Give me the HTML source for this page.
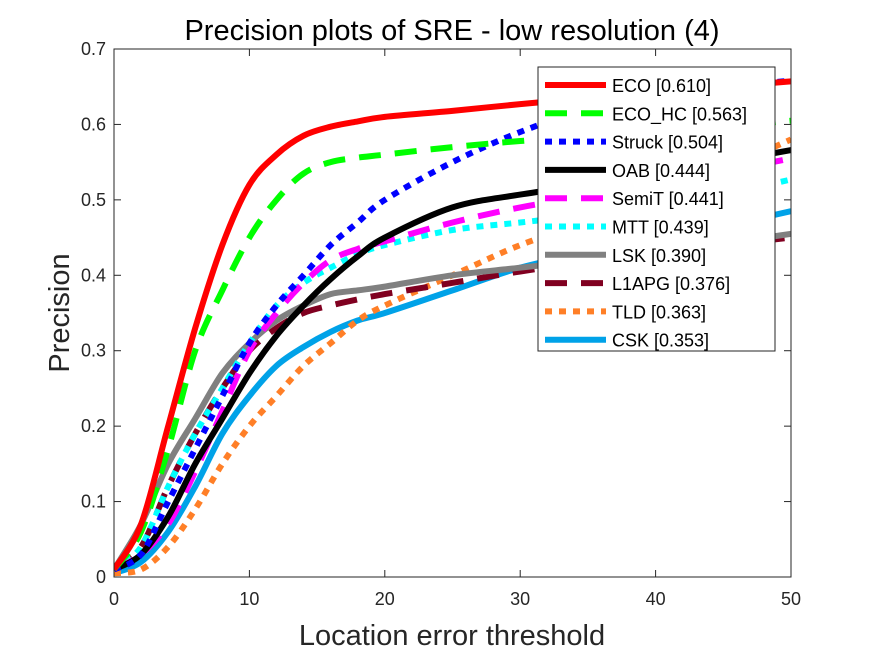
<!DOCTYPE html>
<html><head><meta charset="utf-8"><style>
body{margin:0;background:#fff;width:875px;height:656px;overflow:hidden}
text{font-family:"Liberation Sans",Arial,sans-serif}
</style></head><body>
<svg id="chart" width="875" height="656" xmlns="http://www.w3.org/2000/svg">
<rect width="875" height="656" fill="#fff"/>
<text x="452" y="40" font-size="29" text-anchor="middle">Precision plots of SRE - low resolution (4)</text>
<g id="plot"></g>
<text x="452" y="645" font-size="29" text-anchor="middle" fill="#262626">Location error threshold</text>
<text transform="translate(69,313) rotate(-90)" font-size="29" text-anchor="middle" fill="#262626">Precision</text>
</svg>
<script>
const xs=[0,2,4,6,8,10,12,14,16,18,20,25,30,35,40,45,50];
const names=["ECO [0.610]","ECO_HC [0.563]","Struck [0.504]","OAB [0.444]","SemiT [0.441]","MTT [0.439]","LSK [0.390]","L1APG [0.376]","TLD [0.363]","CSK [0.353]"];
const eco=[0.01,0.07,0.2,0.33,0.44,0.52,0.56,0.585,0.597,0.604,0.61,0.618,0.627,0.635,0.643,0.65,0.657];
const ecohc=[0.01,0.06,0.17,0.3,0.38,0.45,0.5,0.535,0.55,0.556,0.56,0.57,0.578,0.584,0.59,0.597,0.605];
const struck=[0.01,0.03,0.1,0.17,0.24,0.31,0.36,0.4,0.44,0.47,0.5,0.55,0.59,0.62,0.638,0.65,0.658];
const oab=[0.01,0.03,0.08,0.15,0.21,0.27,0.32,0.36,0.395,0.425,0.45,0.49,0.507,0.52,0.535,0.55,0.566];
const semit=[0.01,0.03,0.07,0.14,0.22,0.3,0.35,0.39,0.42,0.435,0.445,0.47,0.49,0.505,0.52,0.537,0.555];
const mtt=[0.01,0.04,0.12,0.19,0.25,0.31,0.36,0.39,0.41,0.428,0.44,0.46,0.47,0.48,0.49,0.507,0.527];
const lsk=[0.01,0.07,0.15,0.21,0.27,0.31,0.34,0.36,0.375,0.38,0.385,0.4,0.41,0.42,0.43,0.442,0.455];
const l1apg=[0.01,0.04,0.12,0.19,0.25,0.3,0.33,0.35,0.36,0.368,0.375,0.39,0.405,0.418,0.43,0.44,0.45];
const tld=[0.005,0.01,0.04,0.09,0.15,0.2,0.24,0.28,0.31,0.34,0.36,0.4,0.44,0.47,0.5,0.54,0.58];
const csk=[0.005,0.02,0.06,0.12,0.19,0.24,0.28,0.305,0.325,0.34,0.35,0.38,0.41,0.43,0.445,0.465,0.485];
const series=[eco,ecohc,struck,oab,semit,mtt,lsk,l1apg,tld,csk];
const xTicks=[0,10,20,30,40,50];
const yTicks=[0,0.1,0.2,0.3,0.4,0.5,0.6,0.7];
const styles=[
 ["#ff0000",""],["#00ff00","22 14"],["#0000ff","7 7"],["#000000",""],["#ff00ff","22 14"],
 ["#00ffff","7 7"],["#808080",""],["#800020","22 14"],["#ff7f27","7 7"],["#00a2e8",""]];
const L=114,R=791,T=49,B=577;
const X=v=>L+(R-L)*v/50, Y=v=>B-(B-T)*v/0.7;
const NS="http://www.w3.org/2000/svg";
const g=document.getElementById('plot');
function mk(t,a,p){const e=document.createElementNS(NS,t);for(const k in a)e.setAttribute(k,a[k]);(p||g).appendChild(e);return e;}
function smooth(P){
 let d='M'+P[0][0].toFixed(1)+','+P[0][1].toFixed(1);
 for(let i=0;i<P.length-1;i++){
  const p0=P[i-1]||P[i],p1=P[i],p2=P[i+1],p3=P[i+2]||p2;
  const c1=[p1[0]+(p2[0]-p0[0])/6,p1[1]+(p2[1]-p0[1])/6];
  const c2=[p2[0]-(p3[0]-p1[0])/6,p2[1]-(p3[1]-p1[1])/6];
  d+=' C'+c1.map(v=>v.toFixed(1))+' '+c2.map(v=>v.toFixed(1))+' '+p2.map(v=>v.toFixed(1));
 }
 return d;
}
xTicks.forEach(t=>{
 mk('line',{x1:X(t),x2:X(t),y1:B,y2:B-7,stroke:'#262626'});
 mk('line',{x1:X(t),x2:X(t),y1:T,y2:T+7,stroke:'#262626'});
 const e=mk('text',{x:X(t),y:B+28,'font-size':18,'text-anchor':'middle',fill:'#262626'});e.textContent=t;
 
 
});
yTicks.forEach(t=>{
 mk('line',{x1:L,x2:L+7,y1:Y(t),y2:Y(t),stroke:'#262626'});
 mk('line',{x1:R,x2:R-7,y1:Y(t),y2:Y(t),stroke:'#262626'});
 const e=mk('text',{x:L-8,y:Y(t)+6,'font-size':18,'text-anchor':'end',fill:'#262626'});e.textContent=t===0?'0':t.toFixed(1);
 
 
});
const clip=mk('clipPath',{id:'cp'});mk('rect',{x:L,y:T,width:R-L,height:B-T},clip);
for(let i=series.length-1;i>=0;i--){
 const P=xs.map((x,j)=>[X(x),Y(series[i][j])]);
 const p=mk('path',{d:smooth(P),fill:'none',stroke:styles[i][0],'stroke-width':6,'stroke-linejoin':'round','clip-path':'url(#cp)'});
 if(styles[i][1])p.setAttribute('stroke-dasharray',styles[i][1]);
 
 
}
mk('rect',{x:L,y:T,width:R-L,height:B-T,fill:'none',stroke:'#262626','stroke-width':1});
const lg=mk('g',{});


mk('rect',{x:538,y:67,width:237,height:284,fill:'#fff',stroke:'#262626'},lg);
names.forEach((n,i)=>{
 const y=85+i*28.3;
 const l=mk('line',{x1:545,x2:606,y1:y,y2:y,stroke:styles[i][0],'stroke-width':6},lg);
 if(styles[i][1])l.setAttribute('stroke-dasharray',styles[i][1]);
 const t=mk('text',{x:612,y:y+7,'font-size':18,fill:'#000'},lg);t.textContent=n;
 
 
});
</script>
</body></html>
